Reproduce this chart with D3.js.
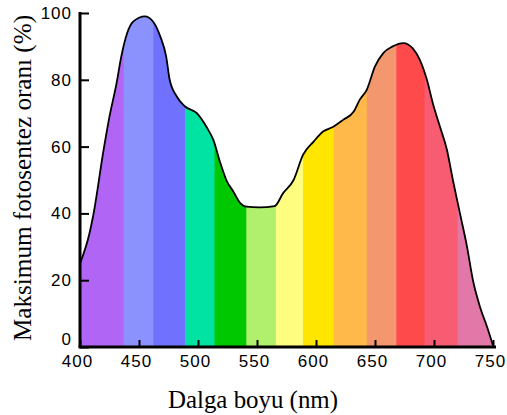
<!DOCTYPE html>
<html>
<head>
<meta charset="utf-8">
<script src="https://cdn.jsdelivr.net/npm/d3@7"></script>
<style>
  html, body { margin: 0; padding: 0; background: #fff; }
  svg { display: block; }
</style>
</head>
<body>
<svg id="chart" width="507" height="415"></svg>
<script>
// ---- data ----
const wavelengths = [400,408,411,420,425,431,435,440,445,455,462,468,473,476,482,489,499,507,513,519,524,530,536,541,552,565,572,581,589,598,606,615,623,632,637,643,650,657,665,674,682,688,694,699,705,711,716,722,728,733,739,745,750];
const rates = [25,34,39,59,69,79,87,94,97.4,99,97.4,93,87,80,75,72,70,66,62,55,50,46.5,43,42,41.8,42.2,46,50,57.5,61.5,64.5,66,68,70.5,74,77,84,88,90,91,89.4,86,80,73,66,59,50,40,30,20,12,6,0.5];
const bandEdges = [400,437,462,489,514,541,566,589,615,643,668,692,720,750];
const bandColors = ["#b065f5","#8c92fd","#7072fd","#00e3a2","#00c800","#b0f06c","#fffd80","#ffe600","#ffb84a","#f2976e","#ff4a4c","#f85c72","#e278a8"];
const xTicks = [400,450,500,550,600,650,700,750];
const yTicks = [0,20,40,60,80,100];
const xTitle = "Dalga boyu (nm)";
const yTitle = "Maksimum fotosentez oranı (%)";

// ---- layout ----
const svg = d3.select("#chart");
const x = d3.scaleLinear().domain([400, 750]).range([80, 493]);
const y = d3.scaleLinear().domain([0, 100]).range([347, 13]);

const pts = wavelengths.map((w, i) => [w, rates[i]]);

const area = d3.area()
  .x(d => x(d[0]))
  .y0(y(0))
  .y1(d => y(d[1]))
  .curve(d3.curveMonotoneX);
const line = d3.line()
  .x(d => x(d[0]))
  .y(d => y(d[1]))
  .curve(d3.curveMonotoneX);

svg.append("defs").append("clipPath").attr("id", "under")
  .append("path").attr("d", area(pts));

const bands = bandColors.map((c, i) => ({ x0: bandEdges[i], x1: bandEdges[i + 1], c }));
svg.append("g").attr("clip-path", "url(#under)")
  .selectAll("rect").data(bands).join("rect")
  .attr("x", d => x(d.x0))
  .attr("width", d => x(d.x1) - x(d.x0) + 0.5)
  .attr("y", y(100))
  .attr("height", y(0) - y(100))
  .attr("fill", d => d.c);

svg.append("path")
  .attr("d", line(pts))
  .attr("fill", "none")
  .attr("stroke", "#000")
  .attr("stroke-width", 1.8);

// ---- axes ----
const tickFont = "'Liberation Sans', Arial, sans-serif";

const gx = svg.append("g").attr("transform", `translate(0,${y(0)})`)
  .call(d3.axisBottom(x).tickValues(xTicks).tickSizeInner(-7).tickSizeOuter(0).tickPadding(8).tickFormat(d3.format("d")));
gx.select(".domain").attr("stroke-width", 3).attr("d", `M${x(400) - 1.5},0H${x(750) + 3}`);
gx.selectAll(".tick line").attr("stroke-width", 2);
gx.selectAll(".tick text")
  .attr("font-family", tickFont).attr("font-size", 17).attr("fill", "#000")
  .attr("dx", -3).style("letter-spacing", "1px");

const gy = svg.append("g").attr("transform", `translate(${x(400)},0)`)
  .call(d3.axisLeft(y).tickValues(yTicks).tickSizeInner(-9).tickSizeOuter(0).tickPadding(8).tickFormat(d3.format("d")));
gy.select(".domain").attr("stroke-width", 3).attr("d", `M0,${y(0)}V${y(100) - 1}`);
gy.selectAll(".tick line").attr("stroke-width", 2);
gy.selectAll(".tick text")
  .attr("font-family", tickFont).attr("font-size", 17).attr("fill", "#000")
  .style("letter-spacing", "1px")
  .attr("dy", d => d === 0 ? "-0.15em" : "0.32em");

// ---- titles ----
svg.append("text")
  .attr("x", 253).attr("y", 408)
  .attr("text-anchor", "middle")
  .attr("font-family", "'Liberation Serif', 'Times New Roman', serif")
  .attr("font-size", 26)
  .attr("textLength", 170)
  .attr("lengthAdjust", "spacingAndGlyphs")
  .attr("fill", "#000")
  .text(xTitle);

svg.append("text")
  .attr("transform", "translate(31,178) rotate(-90)")
  .attr("text-anchor", "middle")
  .attr("font-family", "'Liberation Serif', 'Times New Roman', serif")
  .attr("font-size", 26)
  .attr("textLength", 326)
  .attr("lengthAdjust", "spacingAndGlyphs")
  .attr("fill", "#000")
  .text(yTitle);
</script>
</body>
</html>
